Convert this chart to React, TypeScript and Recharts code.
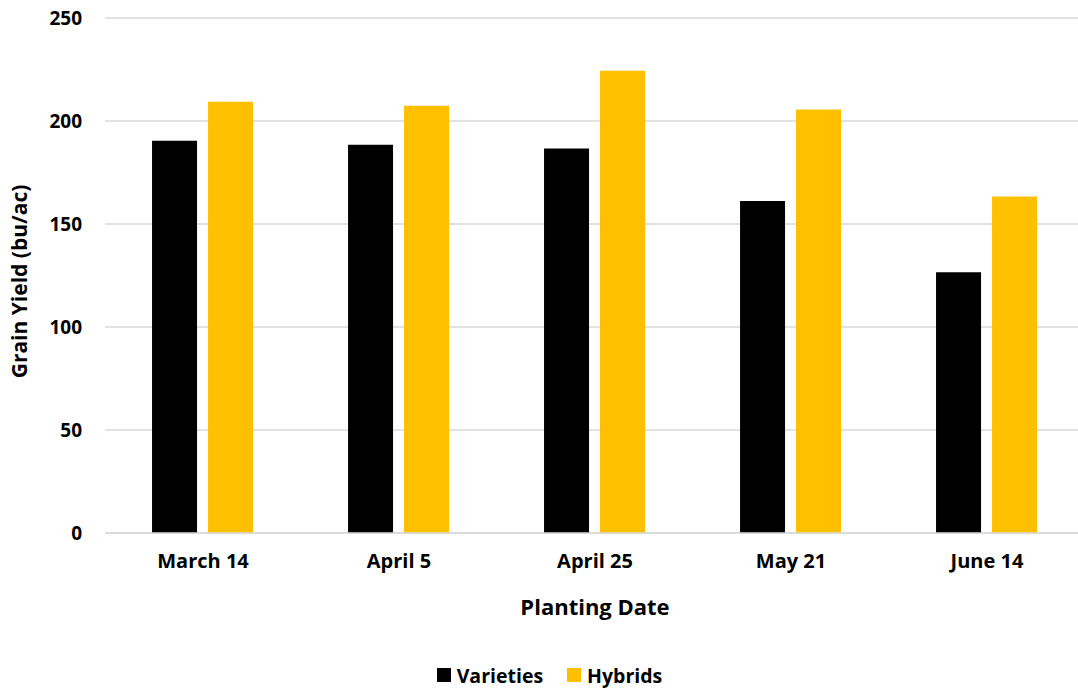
import { Bar, BarChart, CartesianGrid, Label, Legend, XAxis, YAxis } from "recharts";

const plantingDates = ["March 14", "April 5", "April 25", "May 21", "June 14"];
const varieties = [190.4, 188.5, 186.6, 161.2, 126.6];
const hybrids = [209.4, 207.4, 224.4, 205.6, 163.4];
const yTicks = [0, 50, 100, 150, 200, 250];

const data = plantingDates.map((date, i) => ({
  date,
  varieties: varieties[i],
  hybrids: hybrids[i],
}));

const FONT = "'Open Sans', Lato, sans-serif";

const legendItems = [
  { label: "Varieties", color: "#000000" },
  { label: "Hybrids", color: "#FFC000" },
];

function ChartLegend() {
  return (
    <div
      style={{
        display: "flex",
        justifyContent: "center",
        alignItems: "center",
        gap: 24,
        height: 30,
        fontFamily: FONT,
        fontWeight: 700,
        fontSize: 19.5,
        color: "#000",
        paddingLeft: 14,
      }}
    >
      {legendItems.map((item) => (
        <div key={item.label} style={{ display: "flex", alignItems: "center", gap: 6 }}>
          <span style={{ width: 14, height: 14, background: item.color, display: "inline-block" }} />
          {item.label}
        </div>
      ))}
    </div>
  );
}

export default function App() {
  return (
    <div style={{ position: "absolute", left: 0, top: 0, width: 1078, height: 690, overflow: "hidden", background: "#fff" }}>
      <BarChart
        width={1078}
        height={690}
        data={data}
        margin={{ top: 18, right: -7, left: 0, bottom: 0 }}
        barCategoryGap="24%"
        barGap={11}
      >
        <CartesianGrid vertical={false} stroke="#d9d9d9" strokeWidth={1.5} />
        <XAxis
          dataKey="date"
          height={127}
          tickLine={false}
          axisLine={{ stroke: "#d9d9d9", strokeWidth: 1.5 }}
          tickSize={0}
          tickMargin={21}
          tick={{ fill: "#000", fontSize: 20, fontWeight: 700, fontFamily: FONT }}
        >
          <Label
            value="Planting Date"
            position="insideBottom"
            offset={45}
            style={{ fill: "#000", fontSize: 22, fontWeight: 700, fontFamily: FONT }}
          />
        </XAxis>
        <YAxis
          width={105}
          domain={[0, 250]}
          ticks={yTicks}
          axisLine={false}
          tickLine={false}
          tickSize={0}
          tickMargin={23}
          tick={{ fill: "#000", fontSize: 19, fontWeight: 700, fontFamily: FONT }}
        >
          <Label
            value="Grain Yield (bu/ac)"
            angle={-90}
            position="insideLeft"
            offset={20}
            dy={6}
            style={{ textAnchor: "middle", fill: "#000", fontSize: 21, fontWeight: 700, fontFamily: FONT }}
          />
        </YAxis>
        <Legend verticalAlign="bottom" height={30} content={() => <ChartLegend />} />
        <Bar dataKey="varieties" name="Varieties" fill="#000000" isAnimationActive={false} />
        <Bar dataKey="hybrids" name="Hybrids" fill="#FFC000" isAnimationActive={false} />
      </BarChart>
    </div>
  );
}
